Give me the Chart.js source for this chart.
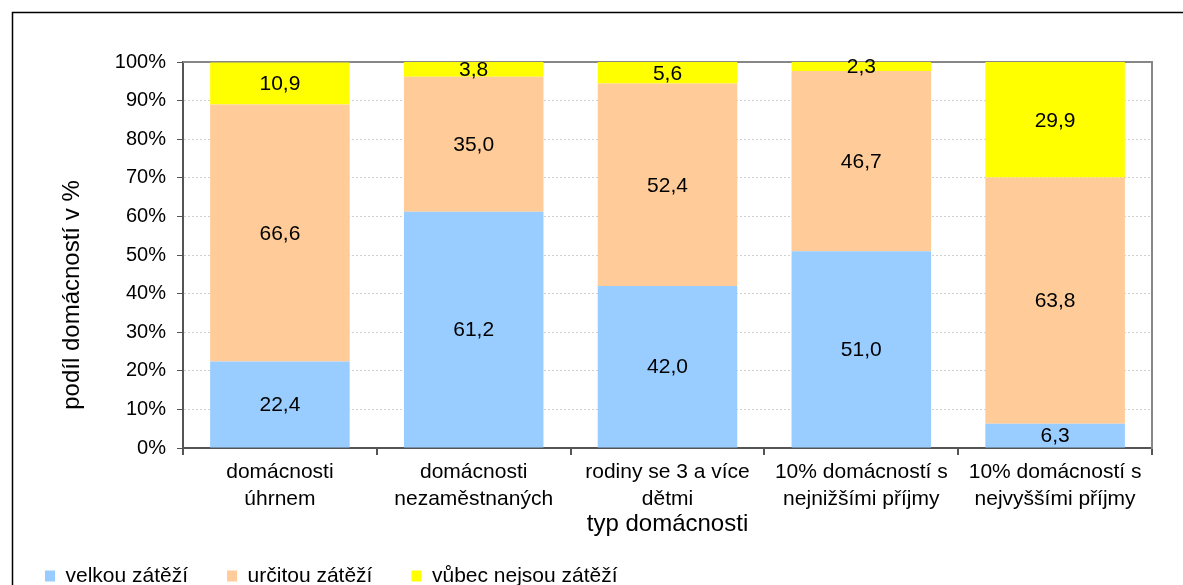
<!DOCTYPE html>
<html><head><meta charset="utf-8">
<script src="https://cdn.jsdelivr.net/npm/chart.js@4"></script>
<style>html,body{margin:0;padding:0;background:#fff;overflow:hidden}#wrap{width:1183px;height:585px}</style>
</head><body><div id="wrap"><canvas id="c" width="1183" height="585"></canvas></div>
<script>
const categories = [
  ["domácnosti", "úhrnem"],
  ["domácnosti", "nezaměstnaných"],
  ["rodiny se 3 a více", "dětmi"],
  ["10% domácností s", "nejnižšími příjmy"],
  ["10% domácností s", "nejvyššími příjmy"]
];
const seriesNames = ["velkou zátěží", "určitou zátěží", "vůbec nejsou zátěží"];
const velkou = [22.4, 61.2, 42.0, 51.0, 6.3];
const urcitou = [66.6, 35.0, 52.4, 46.7, 63.8];
const vubec = [10.9, 3.8, 5.6, 2.3, 29.9];
const yTitle = "podíl domácností v %";
const xTitle = "typ domácnosti";
const colors = ["#99CCFF", "#FFCC99", "#FFFF00"];

Chart.defaults.font.family = '"Liberation Sans", Arial, sans-serif';
Chart.defaults.color = '#000';

const framePlugin = {
  id: 'frame',
  beforeDraw(chart) {
    const ctx = chart.ctx;
    ctx.save();
    ctx.fillStyle = '#fff';
    ctx.fillRect(0, 0, chart.width, chart.height);
    ctx.strokeStyle = '#000';
    ctx.lineWidth = 1.5;
    ctx.strokeRect(12.5, 12.5, 3000, 3000);
    ctx.restore();
  },
  beforeDatasetsDraw(chart) {
    const a = chart.chartArea, ctx = chart.ctx;
    ctx.save();
    ctx.strokeStyle = '#878787';
    ctx.lineWidth = 2;
    ctx.beginPath();
    ctx.moveTo(a.left, a.top);
    ctx.lineTo(a.right, a.top);
    ctx.lineTo(a.right, a.bottom + 1);
    ctx.stroke();
    ctx.restore();
  }
};

const labelPlugin = {
  id: 'vals',
  afterDatasetsDraw(chart) {
    const ctx = chart.ctx;
    ctx.save();
    ctx.font = '21px "Liberation Sans", Arial, sans-serif';
    ctx.fillStyle = '#000';
    ctx.textAlign = 'center';
    ctx.textBaseline = 'middle';
    chart.data.datasets.forEach((ds, i) => {
      chart.getDatasetMeta(i).data.forEach((bar, j) => {
        const v = ds.data[j];
        const y = (bar.y + bar.base) / 2;
        ctx.fillText(v.toFixed(1).replace('.', ','), bar.x, y + 1);
      });
    });
    ctx.restore();
  }
};

const seriesData = [velkou, urcitou, vubec];
// trailing no-break spaces shift the rotated title downward, as in the original
const yTitleShown = yTitle + "\u00A0".repeat(12);

new Chart(document.getElementById('c'), {
  type: 'bar',
  data: {
    labels: categories,
    datasets: seriesNames.map((n, i) => ({
      label: n,
      data: seriesData[i],
      backgroundColor: colors[i],
      borderWidth: 0,
      barPercentage: 0.72,
      categoryPercentage: 1.0
    }))
  },
  options: {
    responsive: false,
    animation: false,
    devicePixelRatio: 1,
    layout: { padding: { left: 6, top: 62, right: 31, bottom: -11.5 } },
    plugins: {
      legend: {
        position: 'bottom',
        align: 'start',
        labels: { boxWidth: 10, boxHeight: 11, padding: 39, font: { size: 21 }, color: '#000' }
      },
      tooltip: { enabled: false }
    },
    scales: {
      x: {
        stacked: true,
        afterFit(s) { s.height = 78.5; },
        grid: { offset: true, drawOnChartArea: false, drawTicks: true, tickLength: 7, color: '#555', tickColor: '#555', lineWidth: 2 },
        border: { display: true, color: '#555', width: 2 },
        ticks: { font: { size: 21, lineHeight: 1.286 }, color: '#000', padding: 4, maxRotation: 0, autoSkip: false },
        title: { display: true, text: xTitle, font: { size: 24, lineHeight: 1.2 }, color: '#000', padding: { top: 0, bottom: -12 } }
      },
      y: {
        stacked: true,
        min: 0, max: 100,
        afterFit(s) { s.width = 177; },
        grid: { color: '#d0d0d0', tickColor: '#555', tickLength: 6, drawTicks: true, lineWidth: 1 },
        border: { display: true, color: '#555', width: 2, dash: [2, 2] },
        ticks: { stepSize: 10, font: { size: 20 }, color: '#000', padding: 11, callback: v => v + '%' },
        title: { display: true, text: yTitleShown, font: { size: 24, lineHeight: 1.2 }, color: '#000', padding: { top: 52, bottom: 0 } }
      }
    }
  },
  plugins: [framePlugin, labelPlugin]
});
</script>
</body></html>
